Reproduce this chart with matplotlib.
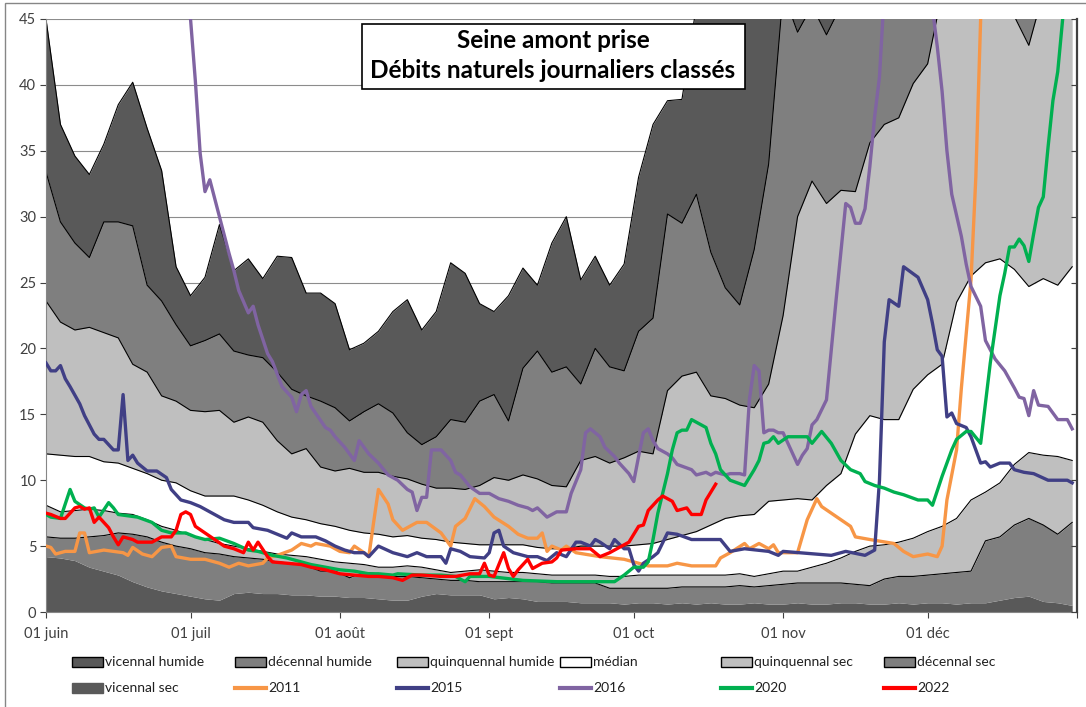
import numpy as np
import matplotlib.pyplot as plt
from matplotlib.patches import Rectangle
from matplotlib.lines import Line2D

plt.rcParams['font.family'] = ['Lato', 'DejaVu Sans']

# jours depuis le 1er juin (débits classés lus tous les 3 jours)
jours = np.arange(0, 214, 3)

# bornes supérieures des bandes (m3/s), de la plus basse à la plus haute
vicennal_sec = [4.2, 4.1, 3.9, 3.4, 3.1, 2.8, 2.3, 1.9, 1.6, 1.4, 1.2, 1.0,
                0.9, 1.4, 1.5, 1.4, 1.4, 1.3, 1.3, 1.2, 1.2, 1.1, 1.1, 1.0,
                0.9, 0.9, 1.2, 1.4, 1.3, 1.3, 1.3, 1.0, 1.1, 1.0, 0.8, 0.8,
                0.8, 0.7, 0.7, 0.7, 0.6, 0.7, 0.7, 0.6, 0.7, 0.6, 0.7, 0.6,
                0.6, 0.7, 0.6, 0.6, 0.7, 0.6, 0.6, 0.7, 0.7, 0.6, 0.6, 0.7,
                0.6, 0.7, 0.7, 0.6, 0.7, 0.7, 0.9, 1.1, 1.2, 0.8, 0.7, 0.5]
decennal_sec = [5.7, 5.6, 5.6, 5.7, 5.8, 6.0, 5.9, 5.7, 5.3, 5.0, 4.8, 4.5,
                4.4, 4.2, 4.1, 4.0, 3.8, 3.7, 3.5, 3.1, 3.1, 2.6, 3.0, 2.9,
                2.7, 2.7, 2.6, 2.5, 2.4, 2.4, 2.3, 2.3, 2.3, 2.3, 2.3, 2.2,
                2.2, 2.2, 2.2, 1.8, 1.8, 1.8, 1.8, 1.8, 1.9, 1.9, 1.9, 1.9,
                2.0, 1.9, 2.0, 2.1, 2.2, 2.2, 2.2, 2.2, 2.1, 2.0, 2.5, 2.7,
                2.7, 2.8, 2.9, 3.0, 3.1, 5.4, 5.7, 6.6, 7.1, 6.6, 5.9, 6.8]
quinquennal_sec = [8.1, 7.6, 7.7, 7.8, 7.7, 7.5, 7.4, 7.0, 6.5, 6.2, 5.8, 5.5,
                   5.2, 5.0, 4.8, 4.6, 4.4, 4.3, 4.2, 4.0, 3.8, 3.7, 3.6, 3.4,
                   3.4, 3.5, 3.4, 3.2, 3.0, 3.1, 3.2, 3.1, 3.0, 3.0, 2.9, 2.8,
                   2.8, 2.8, 2.8, 2.7, 2.7, 2.8, 2.8, 2.8, 2.8, 2.8, 2.8, 2.8,
                   2.9, 2.7, 2.9, 3.1, 3.1, 3.4, 3.7, 4.1, 4.6, 5.0, 5.1, 5.3,
                   5.6, 6.1, 6.5, 7.1, 8.5, 9.1, 9.8, 11.2, 12.1, 11.9, 11.8, 11.5]
median = [12.0, 11.9, 11.8, 11.8, 11.4, 11.3, 10.9, 10.5, 10.0, 9.8, 9.2, 8.8,
          8.8, 8.8, 8.5, 8.1, 7.6, 7.2, 7.0, 6.7, 6.5, 6.2, 6.0, 5.9,
          5.7, 5.8, 5.6, 5.5, 5.3, 5.2, 5.1, 5.1, 5.1, 5.1, 4.9, 4.8,
          4.8, 5.0, 5.0, 5.0, 5.0, 5.1, 5.2, 5.5, 5.8, 6.1, 6.6, 7.1,
          7.3, 7.4, 8.4, 8.5, 8.6, 8.5, 9.6, 10.5, 13.5, 14.9, 14.6, 14.6,
          16.9, 18.0, 18.8, 23.5, 25.5, 26.5, 26.8, 26.0, 24.7, 25.3, 24.8, 26.2]
quinquennal_humide = [23.6, 22.0, 21.4, 21.6, 21.2, 20.8, 18.8, 18.2, 16.4, 16.0, 15.3, 15.2,
                      15.3, 14.4, 14.8, 14.4, 13.0, 12.0, 12.4, 11.0, 10.7, 10.9, 10.6, 10.6,
                      10.3, 10.1, 9.7, 9.4, 9.4, 9.3, 9.6, 10.2, 10.0, 10.4, 10.1, 9.6,
                      9.5, 11.5, 11.8, 11.3, 11.7, 12.2, 12.0, 16.8, 17.9, 18.2, 16.4, 16.2,
                      15.7, 15.5, 17.3, 22.5, 30.0, 32.7, 31.0, 32.0, 31.9, 35.6, 37.0, 37.5,
                      40.1, 41.6, 47.0, 48.0, 48.0, 48.0, 48.0, 45.2, 43.0, 47.0, 48.0, 48.0]
decennal_humide = [33.4, 29.6, 28.0, 26.9, 29.6, 29.6, 29.3, 24.8, 23.6, 21.8, 20.2, 20.6,
                   21.1, 19.8, 19.5, 19.3, 18.2, 16.9, 16.4, 16.0, 15.5, 14.5, 15.2, 15.8,
                   15.1, 13.6, 12.7, 13.3, 14.6, 14.4, 16.0, 16.5, 14.5, 18.5, 19.8, 18.2,
                   18.6, 17.3, 20.0, 18.6, 18.3, 21.3, 22.3, 30.2, 29.5, 31.7, 27.3, 24.6,
                   23.3, 27.5, 34.0, 47.0, 44.0, 46.0, 43.8, 46.0, 48.0, 48.0, 48.0, 48.0,
                   48.0, 48.0, 48.0, 48.0, 48.0, 48.0, 48.0, 48.0, 48.0, 48.0, 48.0, 48.0]
vicennal_humide = [45.0, 37.0, 34.6, 33.2, 35.5, 38.5, 40.2, 36.7, 33.5, 26.2, 24.0, 25.4,
                   29.4, 25.9, 26.8, 25.3, 27.0, 26.9, 24.2, 24.2, 23.4, 19.9, 20.4, 21.3,
                   22.8, 23.7, 21.4, 22.8, 26.5, 25.7, 23.4, 22.8, 24.0, 26.1, 24.8, 28.0,
                   30.0, 25.2, 27.0, 24.8, 26.4, 33.0, 37.0, 38.8, 38.9, 46.0, 50.0, 50.0,
                   50.0, 50.0, 50.0, 50.0, 50.0, 50.0, 50.0, 50.0, 50.0, 50.0, 50.0, 50.0,
                   50.0, 50.0, 50.0, 50.0, 50.0, 50.0, 50.0, 50.0, 50.0, 50.0, 50.0, 50.0]

# années observées : (jour, débit)
j2011 = [0, 1, 2, 4, 6, 7, 8, 9, 12, 16, 17, 18, 20, 22, 24, 26, 27, 30, 33, 36,
         38, 40, 42, 45, 46, 48, 51, 53, 55, 56, 59, 61, 63, 64, 66, 67, 68, 69, 71, 72,
         74, 77, 79, 82, 84, 85, 87, 89, 91, 93, 96, 98, 100, 102, 103, 104, 105, 107, 108, 110,
         115, 120, 125, 129, 131, 134, 139, 140, 142, 145, 146, 148, 150, 151, 152, 156, 158, 160, 161, 165,
         167, 168, 171, 176, 178, 180, 183, 185, 186, 187, 189, 190, 192, 193, 194, 195]
q2011 = [5.0, 4.9, 4.4, 4.6, 4.6, 6.0, 6.0, 4.5, 4.7, 4.5, 4.3, 4.9, 4.4, 4.2, 4.9, 5.0, 4.2, 4.0, 4.0, 3.7,
         3.4, 3.7, 3.5, 3.7, 4.1, 4.3, 4.7, 5.2, 5.0, 5.2, 5.0, 4.6, 4.5, 5.0, 4.5, 4.2, 6.8, 9.3, 8.2, 7.0,
         6.2, 6.8, 6.8, 6.0, 5.0, 6.5, 7.1, 8.6, 8.0, 7.2, 6.5, 5.9, 5.6, 5.6, 6.0, 4.6, 5.0, 4.7, 5.0, 4.5,
         4.2, 4.0, 3.5, 3.5, 3.7, 3.5, 3.5, 4.1, 4.5, 5.2, 4.8, 5.2, 4.8, 5.1, 4.5, 4.5, 7.0, 8.6, 8.0, 7.0,
         6.5, 5.7, 5.5, 5.2, 4.6, 4.2, 4.4, 4.2, 5.0, 8.5, 12.3, 17.0, 25.2, 33.0, 45.0, 55.0]

j2015 = [0, 1, 2, 3, 4, 5, 7, 8, 10, 11, 12, 14, 15, 16, 17, 18, 19, 21, 23, 25,
         26, 28, 30, 32, 35, 37, 39, 42, 43, 46, 48, 50, 51, 53, 56, 58, 60, 62, 64, 66,
         67, 69, 72, 75, 77, 79, 82, 83, 84, 86, 88, 91, 92, 93, 94, 95, 97, 100, 102, 104,
         106, 108, 110, 111, 113, 114, 115, 117, 118, 120, 121, 122, 123, 124, 126, 127, 129, 131, 134, 140,
         142, 145, 150, 152, 153, 163, 166, 170, 172, 173, 174, 175, 177, 178, 181, 183, 184, 185, 186, 187,
         188, 189, 191, 192, 194, 195, 196, 198, 200, 201, 203, 205, 208, 212, 213]
q2015 = [18.9, 18.3, 18.3, 18.7, 17.7, 17.1, 15.8, 14.9, 13.5, 13.1, 13.1, 12.3, 12.3, 16.5, 11.5, 11.9, 11.3, 10.7, 10.7, 10.2,
         9.3, 8.5, 8.3, 8.0, 7.4, 7.0, 6.8, 6.8, 6.4, 6.2, 5.9, 5.6, 6.0, 5.7, 5.7, 5.4, 5.0, 4.7, 4.5, 4.5,
         4.2, 5.0, 4.5, 4.2, 4.5, 4.2, 4.2, 3.7, 4.8, 4.6, 4.2, 4.1, 4.5, 6.0, 6.2, 5.0, 4.5, 4.2, 4.2, 3.9,
         4.5, 4.2, 5.3, 5.3, 5.0, 5.5, 5.3, 4.8, 5.5, 4.8, 4.8, 3.6, 3.1, 3.7, 4.2, 4.5, 6.0, 5.9, 5.5, 5.5,
         4.6, 4.8, 4.6, 4.3, 4.6, 4.3, 4.6, 4.3, 4.7, 10.0, 20.5, 23.7, 23.2, 26.2, 25.4, 23.7, 21.9, 19.9, 19.4, 14.8,
         15.1, 14.3, 14.0, 13.3, 11.3, 11.4, 11.0, 11.3, 11.3, 10.8, 10.6, 10.5, 10.0, 10.0, 9.8]

j2016 = [29, 30, 31, 32, 33, 34, 36, 38, 39, 40, 42, 43, 44, 46, 47, 49, 51, 52, 53, 54,
         55, 58, 59, 60, 62, 64, 65, 67, 69, 71, 73, 75, 76, 77, 78, 79, 80, 82, 84, 85,
         86, 88, 90, 92, 94, 96, 98, 100, 101, 102, 104, 106, 108, 109, 111, 112, 113, 115, 116, 118,
         119, 121, 122, 123, 124, 125, 126, 127, 129, 130, 131, 134, 135, 137, 138, 139, 141, 142, 144, 145,
         146, 147, 148, 149, 150, 151, 152, 153, 155, 156, 157, 158, 159, 160, 162, 163, 164, 166, 167, 168,
         169, 170, 171, 172, 173, 174, 183, 184, 185, 186, 187, 188, 190, 191, 192, 194, 195, 197, 199, 201,
         202, 203, 204, 205, 206, 208, 210, 212, 213]
q2016 = [48.0, 45.0, 40.3, 34.8, 31.9, 32.8, 30.0, 27.2, 25.9, 24.4, 22.7, 23.2, 21.8, 19.6, 19.0, 17.1, 16.3, 15.2, 16.5, 16.8,
         15.6, 14.0, 13.8, 13.3, 12.5, 11.5, 13.0, 12.0, 11.3, 10.4, 10.0, 9.3, 9.1, 7.7, 8.7, 8.7, 12.3, 12.3, 11.5, 10.6,
         10.4, 9.5, 9.0, 9.0, 8.6, 8.4, 8.1, 7.9, 7.7, 7.9, 7.2, 7.6, 7.6, 9.0, 10.8, 13.6, 13.9, 13.3, 12.5, 11.8,
         11.3, 10.5, 9.9, 11.8, 13.6, 13.9, 13.0, 12.4, 12.0, 11.7, 11.2, 10.8, 10.4, 10.6, 10.4, 10.6, 10.4, 10.5, 10.5, 10.4,
         16.1, 18.7, 18.3, 13.6, 13.8, 13.8, 13.6, 13.6, 12.0, 11.2, 11.9, 12.4, 14.2, 14.6, 16.1, 19.9, 23.7, 31.0, 30.7, 29.5,
         29.5, 30.6, 33.8, 37.6, 40.6, 47.0, 47.0, 45.8, 42.9, 39.5, 35.0, 31.7, 28.5, 26.4, 24.7, 23.2, 20.6, 19.2, 18.3, 17.0,
         16.3, 16.2, 14.9, 16.8, 15.7, 15.6, 14.6, 14.6, 13.9]

j2020 = [0, 1, 3, 5, 6, 8, 9, 10, 11, 13, 14, 15, 19, 22, 24, 26, 29, 31, 33, 36,
         39, 42, 44, 47, 50, 53, 55, 58, 61, 64, 67, 69, 72, 73, 78, 82, 85, 87, 88, 92,
         99, 106, 113, 118, 120, 122, 124, 125, 126, 127, 129, 130, 131, 132, 133, 134, 136, 137, 138, 139,
         140, 142, 145, 147, 148, 149, 150, 151, 152, 154, 158, 159, 161, 163, 165, 167, 169, 170, 172, 174,
         176, 178, 181, 183, 184, 186, 188, 189, 191, 192, 194, 196, 198, 199, 200, 201, 202, 203, 204, 205,
         206, 207, 208, 209, 210, 211, 212]
q2020 = [7.4, 7.2, 7.1, 9.3, 8.4, 7.9, 7.8, 7.9, 7.2, 8.3, 7.9, 7.4, 7.2, 6.8, 6.2, 6.0, 6.0, 5.7, 5.5, 5.6,
         5.2, 4.7, 4.6, 4.3, 4.1, 3.8, 3.6, 3.4, 3.2, 3.1, 2.9, 2.9, 2.8, 2.9, 2.8, 2.8, 2.7, 2.3, 2.7, 2.7,
         2.4, 2.3, 2.3, 2.3, 2.8, 3.4, 3.4, 3.8, 5.5, 7.5, 10.5, 12.3, 13.6, 13.8, 13.8, 14.6, 14.2, 14.0, 12.8, 12.0,
         10.8, 10.0, 9.6, 10.8, 11.5, 12.8, 12.9, 13.3, 12.8, 13.3, 13.3, 12.8, 13.7, 12.8, 11.5, 10.8, 10.5, 9.9, 9.6, 9.4,
         9.1, 8.9, 8.5, 8.5, 8.1, 10.3, 12.3, 13.1, 13.7, 13.7, 12.8, 18.9, 24.0, 25.7, 27.7, 27.7, 28.3, 27.8, 26.6, 28.7,
         30.7, 31.5, 35.3, 38.8, 41.0, 44.9, 50.0]

j2022 = [0, 1, 3, 4, 6, 7, 8, 9, 10, 11, 12, 13, 14, 15, 16, 18, 19, 22, 24, 26,
         27, 28, 29, 30, 31, 33, 35, 37, 39, 41, 42, 43, 44, 46, 47, 50, 53, 55, 58, 61,
         64, 67, 69, 72, 74, 76, 78, 82, 85, 88, 90, 91, 92, 93, 95, 96, 97, 98, 100, 101,
         103, 105, 106, 107, 110, 113, 115, 117, 120, 121, 123, 124, 125, 127, 128, 130, 131, 133, 134, 136,
         137, 139]
q2022 = [7.5, 7.4, 7.1, 7.1, 7.9, 8.0, 7.8, 7.9, 6.8, 7.2, 6.8, 6.4, 5.7, 5.1, 5.7, 5.5, 5.3, 5.3, 5.7, 5.7,
         6.2, 7.4, 7.6, 7.4, 6.5, 6.0, 5.5, 5.0, 4.8, 4.5, 5.3, 4.7, 5.3, 4.2, 3.8, 3.7, 3.6, 3.4, 3.2, 2.9,
         2.8, 2.7, 2.7, 2.6, 2.4, 2.8, 2.8, 2.7, 2.7, 2.9, 2.9, 3.7, 2.8, 2.7, 4.5, 3.3, 2.7, 3.2, 4.0, 3.3,
         3.7, 3.8, 4.1, 4.7, 4.8, 4.8, 4.2, 4.5, 5.1, 5.3, 6.5, 6.6, 7.7, 8.5, 8.8, 8.4, 7.7, 7.9, 7.4, 7.4,
         8.5, 9.7]

mois_pos = [0, 30, 61, 92, 122, 153, 183, 214]
mois_lab = ['01 juin', '01 juil', '01 août', '01 sept', '01 oct', '01 nov', '01 déc', '']

W, H = 1086, 707
fig = plt.figure(figsize=(W / 100, H / 100), dpi=100)
ax = fig.add_axes([46 / W, 1 - 612 / H, (1077 - 46) / W, (612 - 19) / H])

bornes = [np.zeros(len(jours)), vicennal_sec, decennal_sec, quinquennal_sec, median,
          quinquennal_humide, decennal_humide, vicennal_humide]
couleurs = ['#595959', '#7f7f7f', '#bfbfbf', 'white', '#bfbfbf', '#7f7f7f', '#595959']
for i, c in enumerate(couleurs):
    ax.fill_between(jours, bornes[i], bornes[i + 1], color=c, lw=0, zorder=1)
for b in bornes[2:]:
    ax.plot(jours, b, color='black', lw=0.8, zorder=2)

annees = [(j2011, q2011, '#f79646'), (j2015, q2015, '#403f85'), (j2016, q2016, '#8064a2'),
          (j2020, q2020, '#00b050'), (j2022, q2022, '#ff0000')]
for j, q, c in annees:
    ax.plot(j, q, color=c, lw=2.4, zorder=3, solid_joinstyle='round')

ax.set_xlim(0, 214)
ax.set_ylim(0, 45)
ax.set_yticks(range(0, 46, 5))
ax.set_xticks(mois_pos)
ax.set_xticklabels(mois_lab)
ax.yaxis.grid(True, color='#8c8c8c', lw=0.8)
ax.set_axisbelow(True)
ax.tick_params(axis='both', labelsize=10.5, colors='#404040', length=4, width=0.8)
ax.tick_params(axis='x', pad=7)
ax.tick_params(axis='y', pad=3)
for s in ['left', 'bottom']:
    ax.spines[s].set_color('#868686')
ax.spines['top'].set_visible(False)
ax.spines['right'].set_visible(False)

ax2 = ax.twinx()
ax2.set_ylim(0, 45)
ax2.set_yticks(range(0, 46, 5))
ax2.tick_params(axis='y', direction='in', length=4, labelright=False, color='#404040')
ax2.spines['right'].set_color('#404040')
ax2.spines['right'].set_linewidth(1.6)
for s in ['left', 'top', 'bottom']:
    ax2.spines[s].set_visible(False)

# titre encadré
fig.patches.append(Rectangle((362 / W, 1 - 89 / H), (745 - 362) / W, (89 - 24) / H,
                             transform=fig.transFigure, facecolor='white',
                             edgecolor='black', lw=1.2, zorder=5))
fig.text(553 / W, 1 - 41 / H, 'Seine amont prise', ha='center', va='center',
         fontsize=17.5, fontweight='bold', zorder=6)
fig.text(553 / W, 1 - 71 / H, 'Débits naturels journaliers classés', ha='center',
         va='center', fontsize=17.5, fontweight='bold', zorder=6)

# légende
legende = [('vicennal humide', '#595959', 'black'), ('décennal humide', '#7f7f7f', 'black'),
           ('quinquennal humide', '#bfbfbf', 'black'), ('médian', 'white', 'black'),
           ('quinquennal sec', '#bfbfbf', 'black'), ('décennal sec', '#7f7f7f', 'black'),
           ('vicennal sec', '#595959', '#595959'), ('2011', '#f79646', None),
           ('2015', '#403f85', None), ('2016', '#8064a2', None),
           ('2020', '#00b050', None), ('2022', '#ff0000', None)]
x0 = [72, 235, 397, 560, 721, 884]
for k, (lab, fc, ec) in enumerate(legende):
    x = x0[k % 6]
    y = 662 if k < 6 else 688
    if ec is not None:
        fig.patches.append(Rectangle((x / W, 1 - (y + 5) / H), 31 / W, 10 / H,
                                     transform=fig.transFigure, facecolor=fc,
                                     edgecolor=ec, lw=1.0))
    else:
        fig.lines.append(Line2D([x / W, (x + 31) / W], [1 - y / H, 1 - y / H],
                                transform=fig.transFigure, color=fc, lw=3))
    fig.text((x + 33) / W, 1 - y / H, lab, ha='left', va='center', fontsize=10,
             color='#202020')

# cadre du graphique
fig.patches.append(Rectangle((5 / W, -0.01), 1.02, 1 - 3 / H + 0.01,
                             transform=fig.transFigure, fill=False,
                             edgecolor='#868686', lw=1.0))

fig.savefig('out.png', dpi=100)
